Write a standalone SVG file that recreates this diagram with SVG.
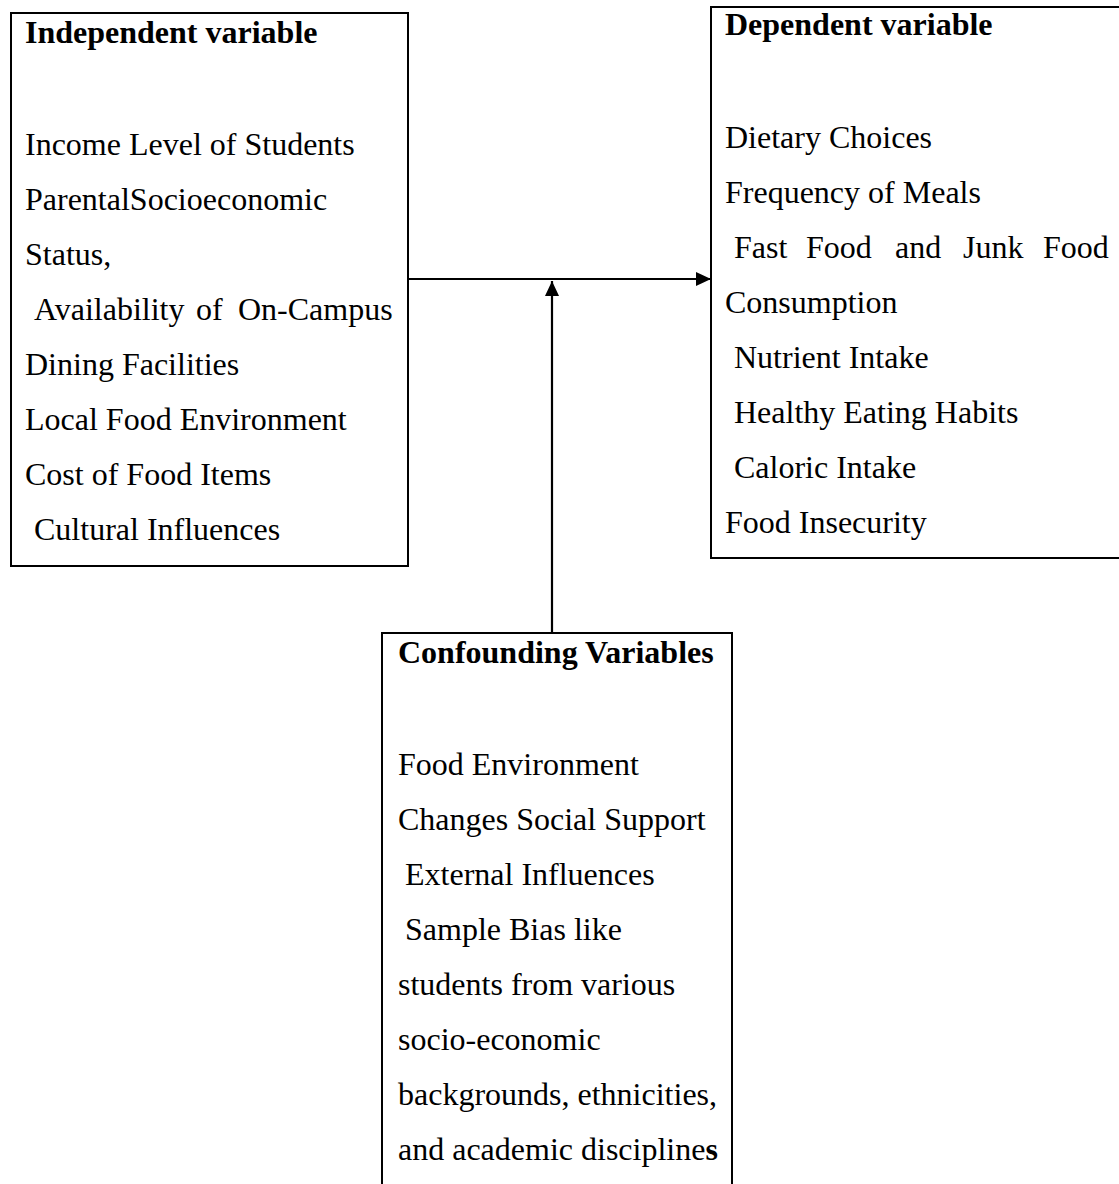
<svg xmlns="http://www.w3.org/2000/svg" width="1119" height="1184" viewBox="0 0 1119 1184">
<style>
.box{fill:#fff;stroke:#000;stroke-width:2}
.t{font-family:"Liberation Serif","Times New Roman",serif;font-size:32px;fill:#000}
.b{font-weight:bold}
.ln{stroke:#000;stroke-width:2.2;fill:none}
</style>
<defs>
<marker id="ah" viewBox="0 0 15 14" refX="15" refY="7" markerWidth="15" markerHeight="14" markerUnits="userSpaceOnUse" orient="auto">
<path d="M0,0 L15,7 L0,14 Z" fill="#000"/>
</marker>
</defs>
<rect width="1119" height="1184" fill="#fff"/>
<g id="connectors">
<line class="ln" x1="409" y1="279" x2="711" y2="279" marker-end="url(#ah)"/>
<line class="ln" x1="552" y1="633" x2="552" y2="281" marker-end="url(#ah)"/>
</g>
<g id="independent">
<rect class="box" x="11" y="13" width="397" height="553"/>
<text class="t b" x="25" y="43">Independent variable</text>
<text class="t" x="25" y="155">Income Level of Students</text>
<text class="t" x="25" y="210">ParentalSocioeconomic</text>
<text class="t" x="25" y="265">Status,</text>
<text class="t" y="320"><tspan x="34">Availability</tspan><tspan x="196">of</tspan><tspan x="238">On-Campus</tspan></text>
<text class="t" x="25" y="375">Dining Facilities</text>
<text class="t" x="25" y="430">Local Food Environment</text>
<text class="t" x="25" y="485">Cost of Food Items</text>
<text class="t" x="34" y="540">Cultural Influences</text>
</g>
<g id="dependent">
<rect class="box" x="711" y="7" width="412" height="551"/>
<text class="t b" x="725" y="35">Dependent variable</text>
<text class="t" x="725" y="148">Dietary Choices</text>
<text class="t" x="725" y="203">Frequency of Meals</text>
<text class="t" y="258"><tspan x="734">Fast</tspan><tspan x="806">Food</tspan><tspan x="895">and</tspan><tspan x="963">Junk</tspan><tspan x="1043">Food</tspan></text>
<text class="t" x="725" y="313">Consumption</text>
<text class="t" x="734" y="368">Nutrient Intake</text>
<text class="t" x="734" y="423">Healthy Eating Habits</text>
<text class="t" x="734" y="478">Caloric Intake</text>
<text class="t" x="725" y="533">Food Insecurity</text>
</g>
<g id="confounding">
<rect class="box" x="382" y="633" width="350" height="560"/>
<text class="t b" x="398" y="663">Confounding Variables</text>
<text class="t" x="398" y="775">Food Environment</text>
<text class="t" x="398" y="830">Changes Social Support</text>
<text class="t" x="405" y="885">External Influences</text>
<text class="t" x="405" y="940">Sample Bias like</text>
<text class="t" x="398" y="995">students from various</text>
<text class="t" x="398" y="1050">socio-economic</text>
<text class="t" x="398" y="1105">backgrounds, ethnicities,</text>
<text class="t" x="398" y="1160">and academic discipline<tspan class="b">s</tspan></text>
</g>
</svg>
